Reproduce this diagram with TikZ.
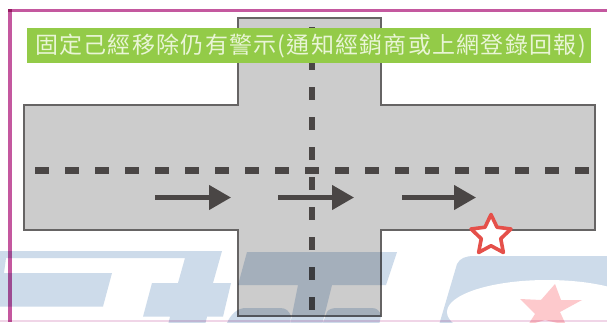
\documentclass[tikz,border=0pt]{standalone}
\usepackage{fontspec}
\newfontfamily\cjkfont{Noto Sans CJK TC}
\usetikzlibrary{arrows.meta,shapes.geometric}
\definecolor{framepink}{HTML}{C4589F}
\definecolor{roadgray}{HTML}{CCCCCC}
\definecolor{edgegray}{HTML}{666464}
\definecolor{markdark}{HTML}{4A4645}
\definecolor{bannergreen}{HTML}{93CB48}
\definecolor{bannertext}{HTML}{E9F5D6}
\definecolor{wmblue}{HTML}{CDDBEA}
\definecolor{wmpink}{HTML}{FDC9CC}
\definecolor{starred}{HTML}{E5504A}
\tikzset{
  road/.style={fill=roadgray,draw=edgegray,line width=1.3pt,line join=miter},
  lanedash/.style={draw=markdark,line width=6.5pt},
  flow/.style={draw=markdark,line width=4.4pt,-{Triangle[length=22pt,width=24pt]}},
  wm/.style={fill=wmblue,draw=none},
  framebar/.style={fill=framepink,draw=none}
}
\begin{document}
\begin{tikzpicture}[x=1pt,y=-1pt]
\useasboundingbox (0,0) rectangle (607,322);
\clip (0,0) rectangle (607,322);
\fill[white] (0,0) rectangle (607,322);
% road
\draw[road] (238,18) -- (381,18) -- (381,105) -- (595,105) -- (595,230) -- (381,230)
  -- (381,316) -- (238,316) -- (238,230) -- (24,230) -- (24,105) -- (238,105) -- cycle;
% lane dashes
\coordinate (hstart) at (35,170.5);
\coordinate (hend) at (592,170.5);
\coordinate (vstart) at (312,27);
\coordinate (vend) at (312,314);
\draw[lanedash,dash pattern=on 14pt off 16pt] (hstart) -- (hend);
\draw[lanedash,line width=6pt,dash pattern=on 13pt off 17pt] (vstart) -- (vend);
% arrows
\coordinate (a1s) at (155,197.5); \coordinate (a1e) at (231,197.5);
\coordinate (a2s) at (278,197.5); \coordinate (a2e) at (354,197.5);
\coordinate (a3s) at (402,197.5); \coordinate (a3e) at (476,197.5);
\draw[flow] (a1s) -- (a1e);
\draw[flow] (a2s) -- (a2e);
\draw[flow] (a3s) -- (a3e);
% star
\node[star,star points=5,star point ratio=2.05,minimum size=42pt,inner sep=0pt,
  draw=starred,fill=white,line width=3.6pt,line join=round] (mark) at (491,235.5) {};
% banner
\fill[bannergreen] (27,28) rectangle (591,63);
\node[text=bannertext,inner sep=0pt,anchor=center] (banner) at (310.5,46)
  {\cjkfont\fontsize{23}{23}\selectfont\addfontfeatures{LetterSpace=5.5}固定己經移除仍有警示(通知經銷商或上網登錄回報)};
% watermark
\begin{scope}[blend mode=multiply]
  \fill[wm] (-2,251) -- (222,251) -- (213,283) -- (231,283) -- (223,316.7) -- (207,316.7)
    -- (205,325) -- (168,325) -- (170,316.7) -- (143,316.7) -- (152,283) -- (178,283) -- (185,258)
    -- (6,258) -- (4,273) -- (112,273) -- (103,306.5) -- (-2,306.5) -- cycle;
  \fill[wm] (247,252) -- (397,252) -- (386,285) -- (332,285) -- (322,325) -- (290,325)
    -- (298,285) -- (238,285) -- cycle;
  \fill[wm] (226,325) .. controls (231,313) and (238,308) .. (246,308) -- (280,308)
    .. controls (286,308) and (289,311) .. (291,316) -- (290,325) -- cycle;
  \fill[wm] (322,325) -- (327,312) .. controls (329,309) and (332,308) .. (338,308) -- (372,308)
    .. controls (377,308) and (380,311) .. (381,316) -- (379,325) -- cycle;
  \fill[wm] (439,325) -- (457,264) .. controls (460,258) and (466,256) .. (474,256)
    -- (610,256) -- (610,325) -- cycle;
\end{scope}
\fill[white] (547,312) ellipse [x radius=100, y radius=32];
\fill[wmpink] (555,284) -- (561,300) -- (582,300) -- (560,312) -- (566,325) -- (545,320)
  -- (528,325) -- (535,314) -- (520,299) -- (541,300) -- cycle;
% frame
\begin{scope}[blend mode=multiply]
  \fill[framebar] (7.5,8.5) rectangle (11.5,322);
  \fill[framebar] (7.5,8.5) rectangle (607,12.3);
  \fill[framepink!25] (0,320) rectangle (607,322);
\end{scope}
\end{tikzpicture}
\end{document}
